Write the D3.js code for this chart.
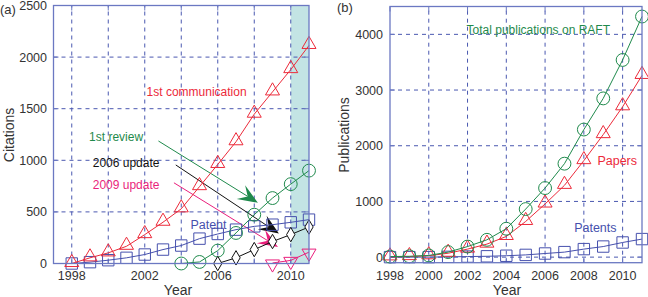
<!DOCTYPE html>
<html>
<head>
<meta charset="utf-8">
<style>
  html, body { margin: 0; padding: 0; background: #fff; }
  svg { display: block; font-family: "Liberation Sans", Arial, Helvetica, sans-serif; }
</style>
</head>
<body>
<svg id="chart" width="648" height="297"></svg>
<script src="https://cdn.jsdelivr.net/npm/d3@7/dist/d3.min.js"></script>
<script>
// panel (a): citations
var yearsA = d3.range(1998, 2012);
var firstComm = [0, 55, 103, 167, 280, 400, 530, 745, 960, 1180, 1447, 1663, 1879, 2113];
var reviewYears = d3.range(2004, 2012);
var firstReview = [0, 15, 125, 296, 473, 634, 769, 900];
var patentA = [0, 13, 32, 55, 87, 135, 174, 241, 286, 328, 360, 376, 399, 425];
var upd2006Years = d3.range(2006, 2012);
var upd2006 = [0, 55, 135, 213, 280, 354];
var upd2009Years = [2009, 2010, 2011];
var upd2009 = [5, 30, 110];
var yTicksA = [0, 500, 1000, 1500, 2000, 2500];
var xLabelsA = [1998, 2002, 2006, 2010];

// panel (b): publications
var yearsB = d3.range(1998, 2012);
var totalPub = [10, 15, 30, 90, 190, 311, 510, 863, 1240, 1678, 2291, 2850, 3540, 4320];
var papers = [5, 10, 25, 70, 144, 234, 371, 641, 954, 1289, 1733, 2200, 2700, 3263];
var patentsB = [0, 0, 0, 5, 10, 15, 25, 40, 65, 90, 144, 190, 263, 324];
var yTicksB = [0, 1000, 2000, 3000, 4000];
var xLabelsB = [1998, 2000, 2002, 2004, 2006, 2008, 2010];

var RED = "#ec2a3a", GREEN = "#1f8a4c", BLUE = "#4650ad", MAG = "#ea1f7c", BLACK = "#111";
var FRAME = "#6b78c2", GRID = "#4a58b0";

var svg = d3.select("#chart");

function frame(g, x, y, xTicks, yTicks) {
  var x0 = x.range()[0], x1 = x.range()[1], y0 = y.range()[0], y1 = y.range()[1];
  // dashed gridlines
  g.selectAll(".vg").data(xTicks.filter(function(t){ return x(t) > x0 + 1 && x(t) < x1 - 1; }))
    .enter().append("line")
    .attr("x1", function(d){ return x(d); }).attr("x2", function(d){ return x(d); })
    .attr("y1", y0).attr("y2", y1)
    .attr("stroke", GRID).attr("stroke-width", 1).attr("stroke-dasharray", "4,4");
  g.selectAll(".hg").data(yTicks.filter(function(t){ return y(t) > y1 + 1 && y(t) < y0 - 1; }))
    .enter().append("line")
    .attr("y1", function(d){ return y(d); }).attr("y2", function(d){ return y(d); })
    .attr("x1", x0).attr("x2", x1)
    .attr("stroke", GRID).attr("stroke-width", 1).attr("stroke-dasharray", "4,4");
  // inward ticks
  var tk = 5;
  xTicks.forEach(function(t){
    g.append("line").attr("x1", x(t)).attr("x2", x(t)).attr("y1", y0).attr("y2", y0 - tk).attr("stroke", FRAME);
    g.append("line").attr("x1", x(t)).attr("x2", x(t)).attr("y1", y1).attr("y2", y1 + tk).attr("stroke", FRAME);
  });
  yTicks.forEach(function(t){
    g.append("line").attr("y1", y(t)).attr("y2", y(t)).attr("x1", x0).attr("x2", x0 + tk).attr("stroke", FRAME);
    g.append("line").attr("y1", y(t)).attr("y2", y(t)).attr("x1", x1).attr("x2", x1 - tk).attr("stroke", FRAME);
  });
}

function border(g, x, y) {
  var x0 = x.range()[0], x1 = x.range()[1], y0 = y.range()[0], y1 = y.range()[1];
  g.append("rect").attr("x", x0).attr("y", y1).attr("width", x1 - x0).attr("height", y0 - y1)
    .attr("fill", "none").attr("stroke", FRAME).attr("stroke-width", 1.3);
}

function series(g, x, y, xs, vals, color, shape) {
  var pts = xs.map(function(d, i){ return [x(d), y(vals[i])]; });
  g.append("path").attr("d", d3.line()(pts))
    .attr("fill", "none").attr("stroke", color).attr("stroke-width", 1);
  var sym;
  if (shape === "tri") sym = d3.symbol().type(d3.symbolTriangle).size(85);
  else if (shape === "circ") sym = d3.symbol().type(d3.symbolCircle).size(130);
  else if (shape === "sq") sym = d3.symbol().type(d3.symbolSquare).size(130);
  else if (shape === "dia") sym = d3.symbol().type(d3.symbolDiamond).size(60);
  else sym = d3.symbol().type(d3.symbolTriangle).size(85);
  g.selectAll(null).data(pts).enter().append("path")
    .attr("d", sym)
    .attr("transform", function(d){
      var r = shape === "inv" ? " rotate(180)" : "";
      var dy = shape === "tri" ? -1 : (shape === "inv" ? 1 : 0);
      return "translate(" + d[0] + "," + (d[1] + dy) + ")" + r;
    })
    .attr("fill", shape === "dia" ? "#fff" : "none")
    .attr("stroke", color).attr("stroke-width", 1);
}

function text(g, px, py, s, color, size, anchor) {
  return g.append("text").attr("x", px).attr("y", py).text(s)
    .attr("fill", color).attr("font-size", size).attr("text-anchor", anchor || "start");
}

function arrow(g, x, y, from, to, color) {
  var ax = x(from[0]), ay = y(from[1]), bx = x(to[0]), by = y(to[1]);
  var ang = Math.atan2(by - ay, bx - ax);
  var L = 20, W = 8;
  var ca = Math.cos(ang), sa = Math.sin(ang);
  var baseX = bx - L * ca, baseY = by - L * sa;
  var notchX = bx - L * 0.6 * ca, notchY = by - L * 0.6 * sa;
  g.append("line").attr("x1", ax).attr("y1", ay).attr("x2", notchX).attr("y2", notchY)
    .attr("stroke", color).attr("stroke-width", 1);
  var p = d3.path();
  p.moveTo(bx, by);
  p.lineTo(baseX - W * sa, baseY + W * ca);
  p.lineTo(notchX, notchY);
  p.lineTo(baseX + W * sa, baseY - W * ca);
  p.closePath();
  g.append("path").attr("d", p.toString()).attr("fill", color);
}

// ---------- panel (a) ----------
var xA = d3.scaleLinear().domain([1997, 2011]).range([53.5, 309]);
var yA = d3.scaleLinear().domain([0, 2500]).range([263.5, 5.5]);
var gA = svg.append("g");

gA.append("rect").attr("x", xA(2010)).attr("y", yA(2500))
  .attr("width", xA(2011) - xA(2010)).attr("height", yA(0) - yA(2500))
  .attr("fill", "#c3e4e4");
frame(gA, xA, yA, d3.range(1998, 2011, 2), yTicksA);

arrow(gA, xA, yA, [2002.75, 1187], [2008.2, 589], GREEN);
arrow(gA, xA, yA, [2003.7, 955], [2009.35, 290], BLACK);
arrow(gA, xA, yA, [2003.6, 782], [2009.3, 160], MAG);

series(gA, xA, yA, yearsA, patentA, BLUE, "sq");
series(gA, xA, yA, reviewYears, firstReview, GREEN, "circ");
series(gA, xA, yA, upd2006Years, upd2006, BLACK, "dia");
series(gA, xA, yA, upd2009Years, upd2009, MAG, "inv");
series(gA, xA, yA, yearsA, firstComm, RED, "tri");
border(gA, xA, yA);

yTicksA.forEach(function(t){ text(gA, 47, yA(t) + 4.5, t, "#333", "12.5px", "end"); });
xLabelsA.forEach(function(t){ text(gA, xA(t), 280, t, "#333", "12.5px", "middle"); });
text(gA, 178, 295, "Year", "#333", "14px", "middle");
text(gA, 0, 0, "Citations", "#333", "14px", "middle")
  .attr("transform", "translate(14,135) rotate(-90)");
text(gA, 0, 14, "(a)", "#333", "13px");

text(gA, xA(2002.1), yA(1620), "1st communication", RED, "12px");
text(gA, xA(1998.95), yA(1187), "1st review", GREEN, "12px");
text(gA, xA(1999.15), yA(931), "2006 update", BLACK, "12px");
text(gA, xA(1999.15), yA(719), "2009 update", MAG, "12px");
text(gA, xA(2004.5), yA(333), "Patent", BLUE, "12.5px");

// ---------- panel (b) ----------
var xB = d3.scaleLinear().domain([1998, 2011]).range([390, 642]);
var yB = d3.scaleLinear().domain([-100, 4500]).range([262.7, 6.5]);
var gB = svg.append("g");

frame(gB, xB, yB, d3.range(1998, 2011, 2), yTicksB);
series(gB, xB, yB, yearsB, patentsB, BLUE, "sq");
series(gB, xB, yB, yearsB, papers, RED, "tri");
series(gB, xB, yB, yearsB, totalPub, GREEN, "circ");
border(gB, xB, yB);

yTicksB.forEach(function(t){ text(gB, 383, yB(t) + 4.5, t, "#333", "12.5px", "end"); });
xLabelsB.forEach(function(t){ text(gB, xB(t), 280, t, "#333", "12.5px", "middle"); });
text(gB, 507, 295, "Year", "#333", "14px", "middle");
text(gB, 0, 0, "Publications", "#333", "14px", "middle")
  .attr("transform", "translate(349,135) rotate(-90)");
text(gB, 337, 12, "(b)", "#333", "13px");

text(gB, xB(2001.95), yB(4011), "Total publications on RAFT", GREEN, "12px");
text(gB, xB(2008.7), yB(1651), "Papers", RED, "12.5px");
text(gB, xB(2007.5), yB(453), "Patents", BLUE, "12.5px");
</script>
</body>
</html>
